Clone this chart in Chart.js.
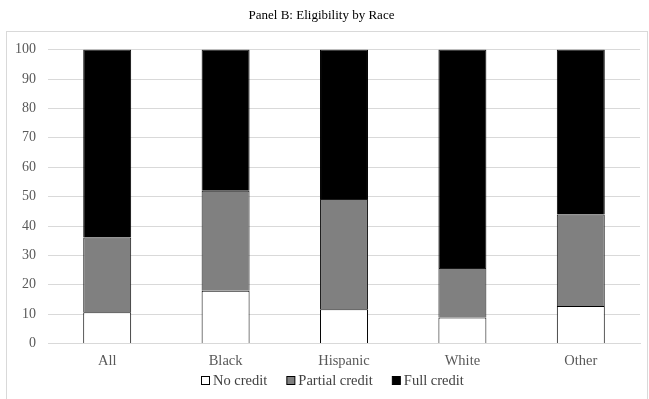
<!DOCTYPE html>
<html>
<head>
<meta charset="utf-8">
<style>
  html, body { margin: 0; padding: 0; background: #ffffff; }
  #wrap { width: 649px; height: 399px; position: relative; }
</style>
<script src="https://cdn.jsdelivr.net/npm/chart.js@4.4.1/dist/chart.umd.min.js"></script>
</head>
<body>
<div id="wrap"><canvas id="c" width="649" height="399"></canvas></div>
<script>
// Eligibility shares (percent) by race group
const categories = ['All', 'Black', 'Hispanic', 'White', 'Other'];
const noCredit = [10.7, 18.0, 11.7, 8.9, 12.8];
const partialCredit = [25.4, 34.0, 37.5, 16.8, 31.1];
const fullCredit = [63.9, 48.0, 50.8, 74.3, 56.1];
const yTicks = [0, 10, 20, 30, 40, 50, 60, 70, 80, 90, 100];

const serif = '"Liberation Serif", "Times New Roman", serif';

// light frame surrounding the plot and legend
const framePlugin = {
  id: 'frame',
  beforeDraw(chart) {
    const ctx = chart.ctx;
    ctx.save();
    ctx.strokeStyle = '#d9d9d9';
    ctx.lineWidth = 1;
    ctx.strokeRect(6.5, 31.5, chart.width - 8, chart.height);
    ctx.restore();
  }
};

// compact legend row: small bordered square, short gap, label, wider gap between entries
const rowLegend = {
  id: 'rowLegend',
  afterDraw(chart) {
    const ctx = chart.ctx;
    const box = 8, gapText = 4, gapItem = 19;
    const y = 381;
    ctx.save();
    ctx.font = '14.5px ' + serif;
    ctx.textBaseline = 'middle';
    const items = chart.data.datasets.map(ds => ({
      text: ds.label, fill: ds.backgroundColor, w: ctx.measureText(ds.label).width
    }));
    const total = items.reduce((s, it) => s + box + gapText + it.w, 0) + gapItem * (items.length - 1);
    let x = Math.round(chart.width / 2 + 8 - total / 2);
    items.forEach(it => {
      ctx.fillStyle = it.fill;
      ctx.fillRect(x + 0.5, y - 4.5, box, box);
      ctx.strokeStyle = '#000000';
      ctx.lineWidth = 1;
      ctx.strokeRect(x + 0.5, y - 4.5, box, box);
      ctx.fillStyle = '#404040';
      ctx.fillText(it.text, x + box + gapText, y + 0.5);
      x += box + gapText + it.w + gapItem;
    });
    ctx.restore();
  }
};

new Chart(document.getElementById('c'), {
  type: 'bar',
  data: {
    labels: categories,
    datasets: [
      { label: 'No credit', data: noCredit, backgroundColor: '#ffffff', borderColor: '#000000', borderWidth: 1 },
      { label: 'Partial credit', data: partialCredit, backgroundColor: '#808080', borderColor: '#1a1a1a', borderWidth: 1 },
      { label: 'Full credit', data: fullCredit, backgroundColor: '#000000', borderColor: '#000000', borderWidth: 1 }
    ]
  },
  options: {
    responsive: false,
    animation: false,
    devicePixelRatio: 1,
    layout: { padding: { left: 3, right: 9, top: 0, bottom: 20 } },
    datasets: { bar: { categoryPercentage: 1.0, barPercentage: 0.405 } },
    plugins: {
      title: {
        display: true,
        text: 'Panel B: Eligibility by Race',
        color: '#000000',
        font: { family: serif, size: 13, weight: 'normal' },
        padding: { top: 8, bottom: 26 }
      },
      legend: { display: false },
      tooltip: { enabled: false }
    },
    scales: {
      x: {
        stacked: true,
        grid: { display: false, drawTicks: false },
        border: { display: true, color: '#d9d9d9' },
        ticks: { color: '#595959', font: { family: serif, size: 14.5 }, padding: 9 }
      },
      y: {
        stacked: true,
        min: 0,
        max: 100,
        afterBuildTicks(axis) { axis.ticks = yTicks.map(v => ({ value: v })); },
        grid: { color: '#d9d9d9', drawTicks: false },
        border: { display: false },
        ticks: { color: '#595959', font: { family: serif, size: 14 }, padding: 12 }
      }
    }
  },
  plugins: [framePlugin, rowLegend]
});
</script>
</body>
</html>
